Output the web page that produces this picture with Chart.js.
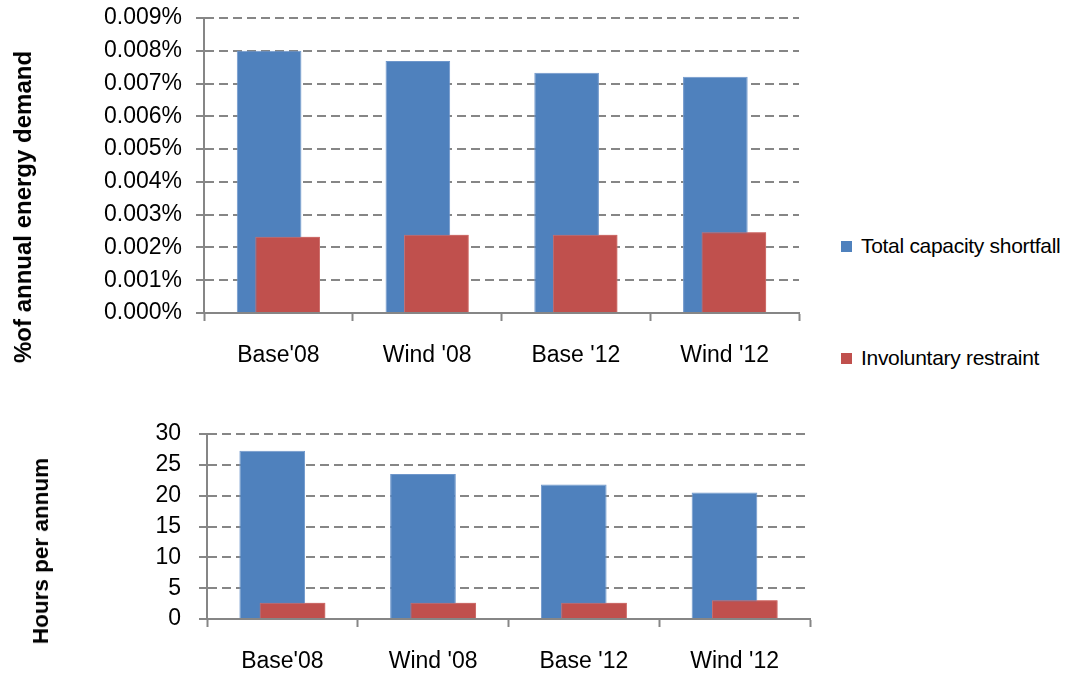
<!DOCTYPE html>
<html>
<head>
<meta charset="utf-8">
<script src="https://cdn.jsdelivr.net/npm/chart.js@4.4.1/dist/chart.umd.min.js"></script>
<style>
  html, body { margin: 0; padding: 0; background: #ffffff; }
  body { width: 1068px; height: 674px; position: relative; overflow: hidden;
         font-family: "Liberation Sans", Arial, sans-serif; color: #000; }
  canvas { position: absolute; }
  #topChart { left: 0; top: 0; }
  #bottomChart { left: 0; top: 420px; }
  .ytitle { position: absolute; font-weight: bold; white-space: nowrap;
            transform: translate(-50%, -50%) rotate(-90deg); }
  .legend-item { position: absolute; left: 841px; display: flex; align-items: center;
                 font-size: 21px; white-space: nowrap; letter-spacing: -0.3px; }
  .legend-item span.box { width: 11px; height: 11px; margin-right: 9px; display: inline-block; }
</style>
</head>
<body>
<canvas id="topChart" width="820" height="400"></canvas>
<canvas id="bottomChart" width="830" height="254"></canvas>
<div class="ytitle" id="topTitle" style="left:23px; top:207px; font-size:24px;"></div>
<div class="ytitle" id="bottomTitle" style="left:41px; top:551px; font-size:22.5px;"></div>
<div id="legend"></div>
<script>
// Scenario categories
const categories = ["Base'08", "Wind '08", "Base '12", "Wind '12"];

// Series names
const seriesNames = ["Total capacity shortfall", "Involuntary restraint"];

// Energy unserved, % of annual energy demand
const pctTotalShortfall = [0.00800, 0.00769, 0.00733, 0.00721];
const pctInvoluntary = [0.00233, 0.00239, 0.00239, 0.00246];

// Duration, hours per annum
const hoursTotalShortfall = [27.3, 23.5, 21.8, 20.5];
const hoursInvoluntary = [2.65, 2.65, 2.65, 3.03];

// Axis settings
const pctTicks = { min: 0, max: 0.009, step: 0.001 };
const hourTicks = { min: 0, max: 30, step: 5 };
const axisTitles = ["%of annual energy demand", "Hours per annum"];

const BLUE = '#4F81BD';
const RED = '#C0504D';
const AXIS = '#868686';
const FONT = "'Liberation Sans', Arial, sans-serif";
const TICK_SIZE = 23;

// Draw the second series again on top so it overlaps the first one
const redOnTop = {
  id: 'redOnTop',
  afterDatasetsDraw(chart) {
    const meta = chart.getDatasetMeta(1);
    if (meta && meta.visible) meta.controller.draw();
  }
};

function makeChart(canvasId, a, b, ticks, fmt, geom) {
  return new Chart(document.getElementById(canvasId), {
    type: 'bar',
    data: {
      labels: categories,
      datasets: [
        { label: seriesNames[0], data: a, backgroundColor: BLUE,
          borderColor: '#6F97CB', borderWidth: 1,
          categoryPercentage: geom.catPct, barPercentage: geom.barPct },
        { label: seriesNames[1], data: b, backgroundColor: RED,
          borderColor: '#CF6F6C', borderWidth: 1,
          categoryPercentage: geom.catPct, barPercentage: geom.barPct }
      ]
    },
    options: {
      responsive: false,
      maintainAspectRatio: false,
      animation: false,
      devicePixelRatio: 1,
      layout: { autoPadding: false, padding: { top: geom.top, right: geom.right, left: 0, bottom: 0 } },
      plugins: { legend: { display: false }, tooltip: { enabled: false } },
      scales: {
        x: {
          grid: { offset: true, drawOnChartArea: false, drawTicks: true, tickLength: 8,
                  tickColor: AXIS, tickWidth: 2, color: AXIS },
          border: { display: true, color: AXIS, width: 2 },
          ticks: { color: '#000', padding: geom.xPad, maxRotation: 0, autoSkip: false,
                    font: { family: FONT, size: TICK_SIZE } },
          afterFit(scale) { scale.height = geom.xHeight; }
        },
        y: {
          min: ticks.min, max: ticks.max,
          grid: { color: AXIS, lineWidth: 2, drawTicks: true, tickLength: 8,
                  tickColor: AXIS, tickWidth: 2 },
          border: { display: true, color: AXIS, width: 2, dash: [9, 5] },
          ticks: { stepSize: ticks.step, color: '#000', padding: geom.yPad, autoSkip: false,
                   font: { family: FONT, size: TICK_SIZE }, callback: fmt },
          afterFit(scale) {
            scale.width = geom.yWidth;
            scale.paddingTop = 0;
            scale.paddingBottom = 0;
          }
        }
      }
    },
    plugins: [redOnTop]
  });
}

makeChart('topChart', pctTotalShortfall, pctInvoluntary, pctTicks,
  v => Number(v).toFixed(3) + '%',
  { top: 18, right: 21, xHeight: 87, yWidth: 204, xPad: 21, yPad: 14, catPct: 0.249, barPct: 3.49 });

makeChart('bottomChart', hoursTotalShortfall, hoursInvoluntary, hourTicks,
  v => String(Math.round(v)),
  { top: 14, right: 20, xHeight: 55, yWidth: 207, xPad: 21, yPad: 18, catPct: 0.269, barPct: 3.24 });

document.getElementById('topTitle').textContent = axisTitles[0];
document.getElementById('bottomTitle').textContent = axisTitles[1];

// Legend beside the upper chart
const legendTops = [234, 346];
const legend = document.getElementById('legend');
[BLUE, RED].forEach((c, i) => {
  const item = document.createElement('div');
  item.className = 'legend-item';
  item.style.top = legendTops[i] + 'px';
  const box = document.createElement('span');
  box.className = 'box';
  box.style.background = c;
  const txt = document.createElement('span');
  txt.textContent = seriesNames[i];
  item.appendChild(box);
  item.appendChild(txt);
  legend.appendChild(item);
});
</script>
</body>
</html>
